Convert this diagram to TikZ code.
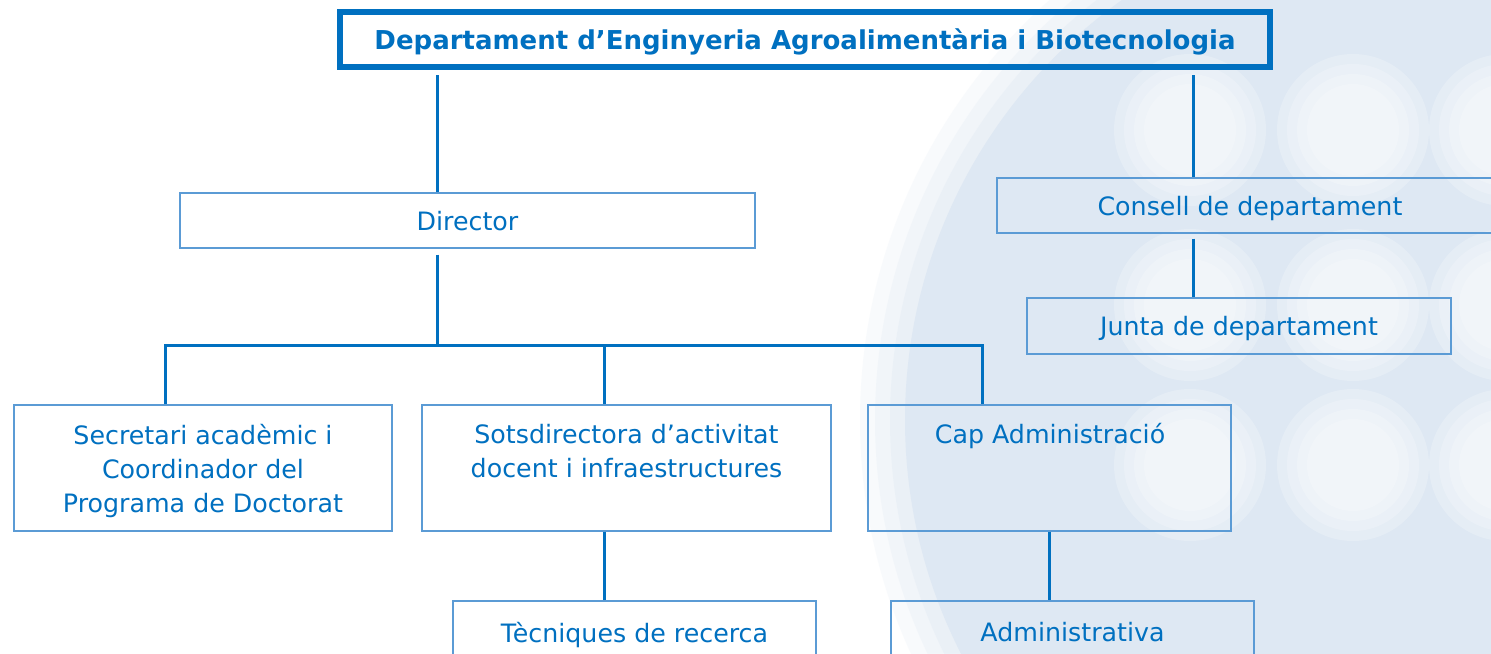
\documentclass[tikz,border=0pt]{standalone}
\usepackage{fontspec}
\setmainfont{DejaVu Sans}
\usetikzlibrary{positioning}
\definecolor{udlblue}{RGB}{0,112,192}
\definecolor{boxline}{RGB}{91,155,213}
\definecolor{wmark}{RGB}{222,232,243}
\tikzset{
  conn/.style={draw=udlblue, line width=1.5pt},
  orgbox/.style={draw=boxline, line width=0.6pt, inner sep=0pt, text=udlblue, font=\fontsize{12.65}{17}\selectfont, align=center, text depth=0pt},
  boxtxt/.style={text=udlblue, font=\fontsize{12.65}{17}\selectfont, align=center, inner sep=0pt, anchor=north},
  blob/.style={white, opacity=0.22},
}
\begin{document}
\begin{tikzpicture}[x=0.5pt,y=-0.5pt]
\useasboundingbox (0,0) rectangle (1491,653);
\clip (0,0) rectangle (1491,653);
\fill[white] (0,0) rectangle (1491,653);

% watermark
\fill[wmark,opacity=0.2] (1420,420) circle[radius=560];
\fill[wmark,opacity=0.25] (1420,420) circle[radius=545];
\fill[wmark,opacity=0.35] (1420,420) circle[radius=530];
\fill[wmark] (1420,420) circle[radius=515];
\fill[blob] (1190,130) circle[radius=76]; \fill[blob] (1190,130) circle[radius=66]; \fill[blob] (1190,130) circle[radius=56]; \fill[blob] (1190,130) circle[radius=46];
\fill[blob] (1353,130) circle[radius=76]; \fill[blob] (1353,130) circle[radius=66]; \fill[blob] (1353,130) circle[radius=56]; \fill[blob] (1353,130) circle[radius=46];
\fill[blob] (1505,130) circle[radius=76]; \fill[blob] (1505,130) circle[radius=66]; \fill[blob] (1505,130) circle[radius=56]; \fill[blob] (1505,130) circle[radius=46];
\fill[blob] (1190,305) circle[radius=76]; \fill[blob] (1190,305) circle[radius=66]; \fill[blob] (1190,305) circle[radius=56]; \fill[blob] (1190,305) circle[radius=46];
\fill[blob] (1353,305) circle[radius=76]; \fill[blob] (1353,305) circle[radius=66]; \fill[blob] (1353,305) circle[radius=56]; \fill[blob] (1353,305) circle[radius=46];
\fill[blob] (1505,305) circle[radius=76]; \fill[blob] (1505,305) circle[radius=66]; \fill[blob] (1505,305) circle[radius=56]; \fill[blob] (1505,305) circle[radius=46];
\fill[blob] (1190,465) circle[radius=76]; \fill[blob] (1190,465) circle[radius=66]; \fill[blob] (1190,465) circle[radius=56]; \fill[blob] (1190,465) circle[radius=46];
\fill[blob] (1353,465) circle[radius=76]; \fill[blob] (1353,465) circle[radius=66]; \fill[blob] (1353,465) circle[radius=56]; \fill[blob] (1353,465) circle[radius=46];
\fill[blob] (1505,465) circle[radius=76]; \fill[blob] (1505,465) circle[radius=66]; \fill[blob] (1505,465) circle[radius=56]; \fill[blob] (1505,465) circle[radius=46];

\node[draw=udlblue, line width=3pt, minimum width=465pt, minimum height=27.25pt, inner sep=0pt, text depth=0pt,
  text=udlblue, font=\fontsize{13}{16}\selectfont\bfseries] (dept) at (805,39.25)
  {Departament d’Enginyeria Agroalimentària i Biotecnologia};

\node[orgbox, minimum width=287.5pt, minimum height=27.5pt] (director) at (467.5,220.5) {Director};
\node[orgbox, minimum width=253pt, minimum height=27.5pt] (consell) at (1250,205.5) {Consell de departament};
\node[orgbox, minimum width=212pt, minimum height=28pt] (junta) at (1239,326) {Junta de departament};

\node[orgbox, minimum width=189pt, minimum height=63pt] (secretari) at (203,468) {};
\node[orgbox, minimum width=204.5pt, minimum height=63pt] (sotsdir) at (626.5,468) {};
\node[orgbox, minimum width=181.5pt, minimum height=63pt] (cap) at (1049.5,468) {};
\node[boxtxt] (secretaritxt) at (203,424) {Secretari acadèmic i\\Coordinador del\\Programa de Doctorat};
\node[boxtxt] (sotsdirtxt) at (626.5,424) {Sotsdirectora d’activitat\\docent i infraestructures};
\node[boxtxt] (captxt) at (1050,423) {Cap Administració};

\node[orgbox, minimum width=181.5pt, minimum height=31pt] (tecniques) at (634.5,632) {Tècniques de recerca};
\node[orgbox, minimum width=181.5pt, minimum height=31pt] (admin) at (1072.5,632) {Administrativa};

\coordinate (colA) at (437,0);
\coordinate (colB) at (1193,0);
\coordinate (split) at (437,345);
\coordinate (dropS) at (165,0);
\coordinate (dropT) at (604,0);
\coordinate (dropC) at (982,0);

\draw[conn, shorten <=2.75pt] (dept.south -| colA) -- (director.north -| colA);
\draw[conn, shorten <=2.75pt] (dept.south -| colB) -- (consell.north -| colB);
\draw[conn, shorten <=2.5pt] (consell.south -| colB) -- (junta.north -| colB);
\draw[conn, shorten <=3pt] (director.south -| colA) -- (split);
\draw[conn] (secretari.north -| dropS) -- (split -| dropS) -- (split -| dropC) -- (cap.north -| dropC);
\draw[conn] (sotsdir.north -| dropT) -- (split -| dropT);
\draw[conn] (sotsdir.south -| dropT) -- (tecniques.north -| dropT);
\draw[conn] (cap.south) -- (admin.north -| cap.south);
\end{tikzpicture}
\end{document}
